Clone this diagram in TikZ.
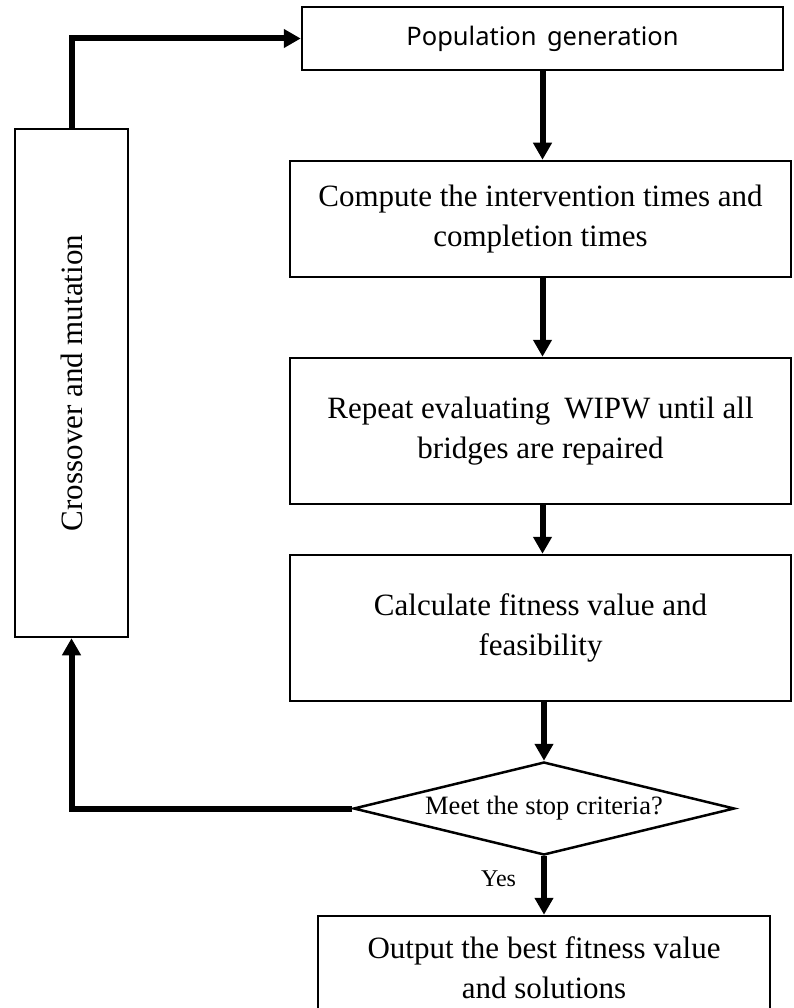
\documentclass[tikz,border=0pt]{standalone}
\usepackage{fontspec}
\setmainfont{Liberation Serif}
\newfontfamily\popfont{Noto Sans}
\usetikzlibrary{arrows.meta,shapes.geometric}
\begin{document}
\begin{tikzpicture}[x=1pt,y=-1pt,
  box/.style={draw, line width=2.5pt, inner sep=0pt, align=center,
    font=\fontsize{31}{40}\selectfont},
  arr/.style={line width=6pt, -{Triangle[length=17pt,width=18pt]}},
  link/.style={line width=6pt}]
\useasboundingbox (0,0) rectangle (793,1008);
\fill[white] (0,0) rectangle (793,1008);
\clip (0,0) rectangle (793,1008);

\node[box, minimum width=481pt, minimum height=63pt, font=\popfont\fontsize{25.5}{30}\selectfont]
  (pop) at (542.5,38.5) {Population\hspace{0.15em} generation};
\node[box, minimum width=113pt, minimum height=508pt]
  (cross) at (71.5,383) {};
\node[rotate=90, font=\fontsize{31}{40}\selectfont] (crosstxt) at (cross.center) {Crossover and mutation};
\node[box, minimum width=501pt, minimum height=116pt]
  (comp) at (540.5,219) {Compute the intervention times and\\completion times};
\node[box, minimum width=501pt, minimum height=146pt]
  (rep) at (540.5,431) {Repeat evaluating\hspace{0.2em} WIPW until all\\bridges are repaired};
\node[box, minimum width=501pt, minimum height=146pt]
  (calc) at (540.5,628) {Calculate fitness value and\\feasibility};
\node[diamond, draw, line width=2.5pt, inner sep=0pt, minimum width=381pt, minimum height=93pt]
  (dia) at (544,808.5) {};
\node[font=\fontsize{26.5}{30}\selectfont] (diatxt) at (dia.center) {Meet the stop criteria?};
\node[box, minimum width=452pt, minimum height=104pt]
  (out) at (544,968) {Output the best fitness value\\and solutions};

\draw[arr] (pop.south) -- (pop.south |- comp.north);
\draw[arr] (comp.south -| pop.south) -- (pop.south |- rep.north);
\draw[arr] (rep.south -| pop.south) -- (pop.south |- calc.north);
\draw[arr] (calc.south -| dia.north) -- (dia.north);
\draw[arr] (dia.south) -- node[pos=0.38, left=25pt, inner sep=0pt, font=\fontsize{24}{28}\selectfont] (yes) {Yes} (dia.south |- out.north);
\draw[arr] (dia.west) -- (cross.south |- dia.west) -- (cross.south);
\draw[arr] (cross.north) -- (cross.north |- pop.west) -- (pop.west);
\end{tikzpicture}
\end{document}
